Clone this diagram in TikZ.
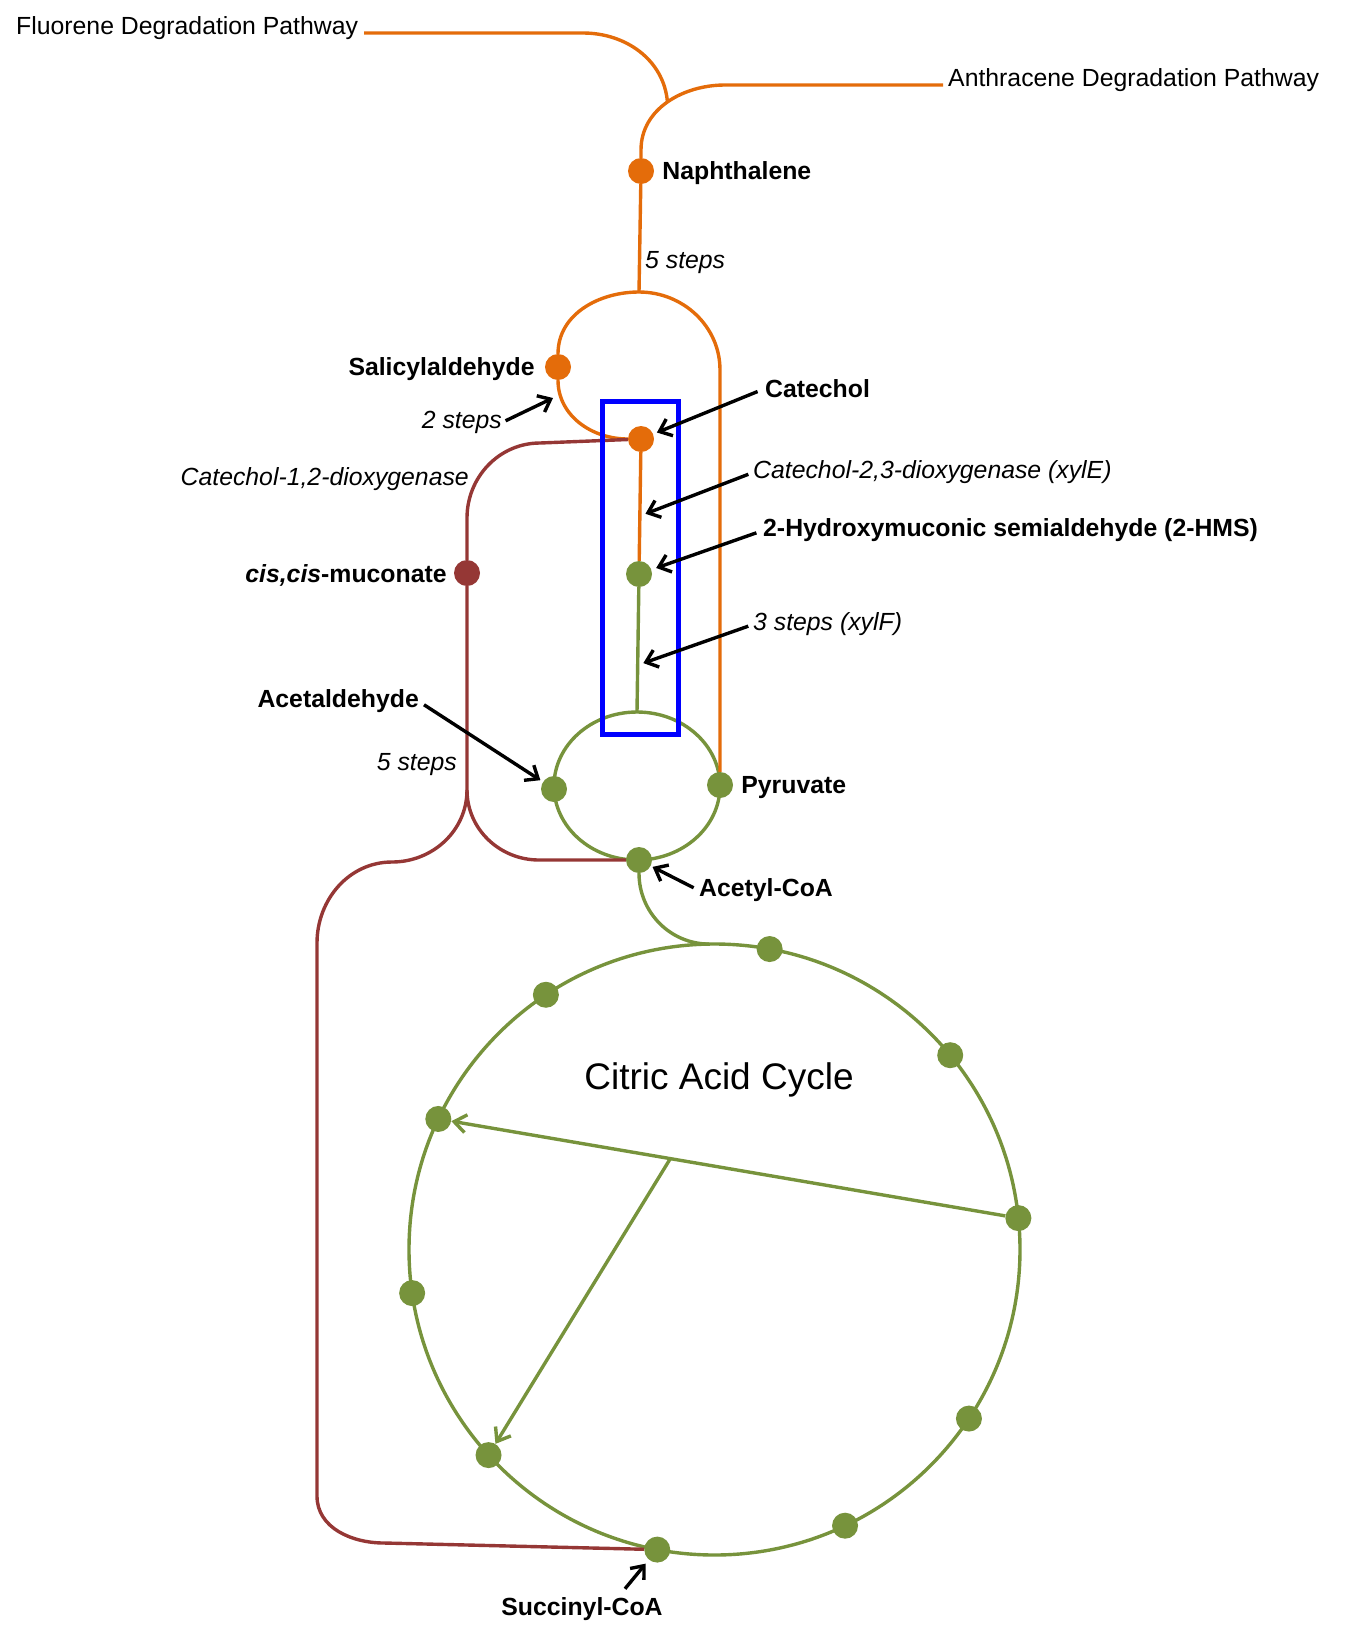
\documentclass[tikz,border=0pt]{standalone}
\usepackage{fontspec}
\setmainfont{Liberation Sans}
\usetikzlibrary{positioning,arrows.meta,calc}
\definecolor{naphorange}{RGB}{228,108,10}
\definecolor{tcagreen}{RGB}{119,147,60}
\definecolor{orthored}{RGB}{149,55,53}

\begin{document}
\begin{tikzpicture}[
  x=1pt, y=1pt,
  dot/.style={circle, inner sep=0pt, minimum size=26pt},
  odot/.style={dot, fill=naphorange},
  gdot/.style={dot, fill=tcagreen},
  rdot/.style={dot, fill=orthored},
  cpd/.style={font=\fontsize{24.8}{29}\selectfont\bfseries, inner sep=0pt, yshift=-2.5pt},
  stp/.style={font=\fontsize{24.8}{29}\selectfont\itshape, inner sep=0pt, yshift=-2.5pt},
  ext/.style={font=\fontsize{24.8}{29}\selectfont, inner sep=0pt, yshift=-2.5pt},
  route/.style={line width=3.4pt},
  arr/.style={-{Straight Barb[length=11pt, width=18pt]}, line width=3.4pt},
  node distance=8pt
]
  \useasboundingbox (0,0) rectangle (1345,-1628);

  \coordinate (tca) at (714.5,-1249.5);
  \coordinate (loop) at (637,-786);
  \draw[route, tcagreen] (tca) circle[radius=305.5];
  \draw[route, tcagreen] (loop) ellipse[x radius=83, y radius=74];

  \node[odot] (naph) at (641,-171) {};
  \node[odot] (sal) at (558,-367) {};
  \node[odot] (cat) at (641,-439) {};
  \node[gdot] (hms) at (639,-574) {};
  \node[rdot] (cis) at (467,-573) {};
  \node[gdot] (acet) at (554,-789) {};
  \node[gdot] (pyr) at (720,-785) {};
  \node[gdot] (acoa) at (639,-860) {};
  \foreach \ang/\nm in {79.6/tca1, 39.5/tca2, 5.9/tca3, -33.6/tca4, -64.7/tca5,
                        -100.8/succ, -137.7/tca7, -171.8/tca8, 154.7/tca9, 123.5/tca10}
    \node[gdot] (\nm) at ($(tca)+(\ang:305.5)$) {};

  \coordinate (fluoend) at (364,-33);
  \coordinate (anthend) at (943,-85);
  \coordinate (saltop) at (639,-292);
  \coordinate (looptop) at (637,-712);
  \coordinate (split) at (467,-790);
  \coordinate (tcatop) at ($(tca)+(91:305.5)$);

  \draw[route, naphorange] (anthend) -- (725,-85) to[out=180,in=90] coordinate[pos=0.5] (merge) (641,-150) -- (naph);
  \draw[route, naphorange] (fluoend) -- (583,-33) to[out=0,in=95] (merge);
  \draw[route, naphorange] (naph) -- (saltop);
  \draw[route, naphorange] (pyr) -- (720,-370) to[out=90,in=0] (saltop) to[out=180,in=90] (sal) to[out=-90,in=180] (cat);
  \draw[route, naphorange] (cat) -- (hms);
  \draw[route, tcagreen] (hms) -- (looptop);
  \draw[route, tcagreen] (acoa) to[out=-90,in=180] (tcatop);

  \draw[route, orthored] (cat) -- (540,-443) to[out=180,in=90] (467,-518) -- (cis);
  \draw[route, orthored] (cis) -- (split) to[out=-90,in=180] (539,-860) -- (acoa);
  \draw[route, orthored] (split) to[out=-90,in=0] (392,-862) to[out=180,in=90] (317,-943)
    -- (317,-1496) to[out=-90,in=180] (384,-1543) -- (succ);

  \draw[route, tcagreen, -{Straight Barb[length=12pt, width=18pt]}] (tca3) -- (tca9);
  \draw[route, tcagreen, -{Straight Barb[length=12pt, width=18pt]}] ($(tca3)!0.6!(tca9)$) -- (tca7);

  \node[draw=blue, line width=5pt, minimum width=76pt, minimum height=333pt, inner sep=0pt] (focus) at (640,-567.5) {};

  \node[ext, anchor=west] (fluorl) at (16,-26) {Fluorene Degradation Pathway};
  \node[ext, anchor=west] (anthl) at (948,-78) {Anthracene Degradation Pathway};

  \node[cpd, right=of naph] (naphl) {Naphthalene};
  \node[stp, anchor=west] (naphstep) at (645,-260) {5 steps};
  \node[cpd, left=10pt of sal] (sall) {Salicylaldehyde};
  \node[stp, anchor=east] (salstep) at (502,-420) {2 steps};
  \coordinate (saltip) at (553,-398);
  \draw[arr, shorten <=4pt] (salstep.east) -- (saltip);

  \node[cpd, anchor=west] (catl) at (765,-386) {Catechol};
  \draw[arr, shorten <=8pt, shorten >=4pt] (catl.west) -- (cat);
  \node[stp, anchor=east] (orthoenz) at (469,-477) {Catechol-1,2-dioxygenase};
  \node[stp, anchor=west] (metaenz) at (753,-470) {Catechol-2,3-dioxygenase (xylE)};
  \draw[arr, shorten <=5pt, shorten >=6pt] (metaenz.west) -- ($(cat)!0.57!(hms)$);
  \node[cpd, anchor=west] (hmsl) at (763,-528) {2-Hydroxymuconic semialdehyde (2-HMS)};
  \draw[arr, shorten <=7pt, shorten >=5pt] (hmsl.west) -- (hms);
  \node[stp, anchor=west] (xylf) at (753,-622) {3 steps (xylF)};
  \draw[arr, shorten <=5pt, shorten >=6pt] (xylf.west) -- ($(hms)!0.66!(looptop)$);
  \node[cpd, left=7pt of cis] (cisl) {{\itshape cis,cis}-muconate};

  \node[cpd, anchor=east] (acetl) at (419,-699) {Acetaldehyde};
  \draw[arr, shorten <=6pt, shorten >=3pt] (acetl.east) -- (acet);
  \node[stp, anchor=east] (acetstep) at (457,-762) {5 steps};
  \node[cpd, right=of pyr] (pyrl) {Pyruvate};
  \node[cpd, anchor=west] (acoal) at (699,-888) {Acetyl-CoA};
  \draw[arr, shorten <=6pt, shorten >=2pt] (acoal.west) -- (acoa);

  \node[font=\fontsize{37}{44}\selectfont, inner sep=0pt, yshift=-3pt] (tcal) at (719,-1077) {Citric Acid Cycle};
  \node[cpd] (succl) at (582,-1607) {Succinyl-CoA};
  \draw[arr, shorten >=5pt] ([xshift=43pt, yshift=9pt]succl.north) -- (succ);
\end{tikzpicture}
\end{document}
